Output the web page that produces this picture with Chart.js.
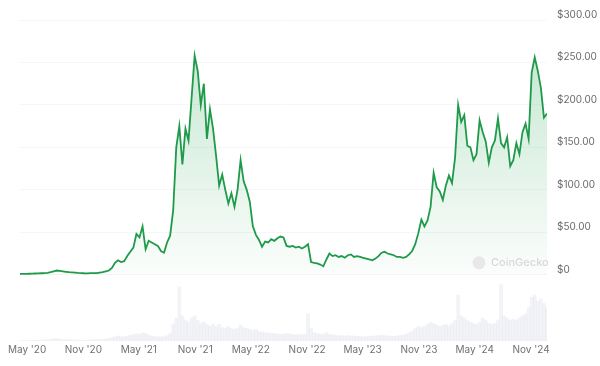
<!DOCTYPE html>
<html>
<head>
<meta charset="utf-8">
<script src="https://cdn.jsdelivr.net/npm/chart.js@4.4.1/dist/chart.umd.min.js"></script>
<style>
  html, body { margin: 0; padding: 0; background: #fff; }
</style>
</head>
<body>
<canvas id="chart" width="600" height="366"></canvas>
<script>
// price history, one reading every 10 days from the start date
const startDate = '2020-04-08';
const stepDays = 10;

const prices = [
  1, 1, 1, 1.2, 1.3, 1.5, 1.6, 1.8, 2, 2.3,
  3, 4, 5, 4.5, 4, 3.5, 3, 2.8, 2.5, 2.2,
  2, 1.8, 1.7, 2, 2, 2, 2.5, 3, 4, 5,
  8, 14, 17, 15, 16, 22, 27, 32, 48, 44,
  57, 30, 40, 38, 36, 34, 28, 26, 38, 46,
  76, 150, 175, 130, 172, 158, 208, 258, 240, 200,
  225, 160, 195, 172, 140, 105, 118, 100, 84, 96,
  80, 100, 135, 110, 100, 86, 57, 47, 41, 33,
  39, 38, 42, 40, 43, 45, 44, 34, 33, 34,
  32, 33, 31, 33, 36, 15, 14, 13.5, 12, 10,
  18, 25, 22, 23, 21, 22, 20, 23, 24, 21,
  22, 21, 20, 19, 18, 17, 19, 22, 26, 27,
  25, 24, 23, 21, 21, 20, 21, 24, 28, 36,
  49, 65, 57, 64, 80, 120, 103, 98, 88, 105,
  117, 108, 138, 200, 180, 188, 152, 150, 135, 142,
  182, 168, 157, 132, 150, 158, 184, 155, 150, 162,
  128, 135, 155, 142, 168, 178, 160, 238, 256, 240,
  220, 185, 190
];

// trading volume (USD bn), same dates
const volumes = [
  0.1, 0.1, 0.1, 0.1, 0.15, 0.15, 0.2, 0.2, 0.3, 0.3,
  0.4, 0.5, 0.6, 0.4, 0.3, 0.3, 0.3, 0.25, 0.2, 0.2,
  0.2, 0.2, 0.2, 0.25, 0.3, 0.3, 0.35, 0.4, 0.5, 0.6,
  0.8, 1, 1.2, 1, 1, 1.2, 1.4, 1.5, 1.8, 1.6,
  2, 1.8, 1.5, 1.2, 1.1, 1, 1, 1, 1.3, 1.8,
  4, 5.5, 13, 6, 5, 4.5, 5.5, 6, 5, 4.2,
  4.5, 4, 3.5, 4, 3.5, 4, 3.2, 3, 3.5, 3,
  2.8, 3, 3.8, 3.2, 3, 2.8, 2.5, 2.8, 2.2, 2.2,
  2, 2, 1.8, 1.8, 1.7, 1.6, 1.6, 1.8, 1.7, 1.5,
  1.5, 1.6, 1.5, 1.6, 6.5, 3, 2, 1.8, 1.6, 1.5,
  2, 1.6, 1.5, 1.4, 1.3, 1.3, 1.2, 1.3, 1.2, 1.2,
  1.1, 1.1, 1, 1, 1.1, 1.2, 1.2, 1.3, 1.4, 1.3,
  1.2, 1.2, 1.1, 1.2, 1.3, 1.4, 1.6, 2, 2.4, 3,
  3.5, 3.2, 3.5, 4, 4.5, 4.2, 3.8, 3.5, 3.8, 4,
  3.6, 4.2, 5, 11, 6, 5.5, 5, 4.5, 4.2, 4,
  4.5, 5.5, 5, 4.2, 4, 4.2, 5, 13.5, 6, 5.5,
  5, 5.2, 5, 5.5, 6, 6.5, 8, 10.5, 11, 9.5,
  10, 9, 8
];

const tickDates = ['2020-05-01', '2020-11-01', '2021-05-01', '2021-11-01', '2022-05-01',
                   '2022-11-01', '2023-05-01', '2023-11-01', '2024-05-01', '2024-11-01'];
const tickLabels = ["May '20", "Nov '20", "May '21", "Nov '21", "May '22",
                    "Nov '22", "May '23", "Nov '23", "May '24", "Nov '24"];
const priceTicks = [0, 50, 100, 150, 200, 250, 300];

const DAY = 86400000;
const t0 = Date.parse(startDate);
const tickDays = tickDates.map(d => (Date.parse(d) - t0) / DAY);
const lastDay = (prices.length - 1) * stepDays;

const pricePoints = prices.map((p, i) => ({ x: i * stepDays, y: p }));
const volumePoints = volumes.map((v, i) => ({ x: i * stepDays, y: v }));

const green = '#1e9a4a';

const watermark = {
    id: 'watermark',
    afterDatasetsDraw(chart) {
        const { ctx, chartArea, scales } = chart;
        const y = scales.y.getPixelForValue(14);
        ctx.save();
        ctx.fillStyle = '#e8e8e8';
        ctx.beginPath();
        ctx.arc(chartArea.right - 68, y, 6.5, 0, Math.PI * 2);
        ctx.fill();
        ctx.fillStyle = '#d8d8d8';
        ctx.font = '500 11px Inter, sans-serif';
        ctx.textBaseline = 'middle';
        ctx.fillText('CoinGecko', chartArea.right - 56, y);
        ctx.restore();
    }
};

new Chart(document.getElementById('chart'), {
    type: 'line',
    data: {
        datasets: [{
                label: 'Price',
                data: pricePoints,
                yAxisID: 'y',
                borderColor: green,
                borderWidth: 1.8,
                pointRadius: 0,
                tension: 0,
                fill: 'origin',
                backgroundColor: function(context) {
                    const { chart } = context;
                    const { ctx, chartArea, scales } = chart;
                    if (!chartArea) return 'rgba(30,160,75,0.1)';
                    const g = ctx.createLinearGradient(0, scales.y.getPixelForValue(260), 0, scales.y.getPixelForValue(0));
                    g.addColorStop(0, 'rgba(30,160,75,0.24)');
                    g.addColorStop(1, 'rgba(30,160,75,0.02)');
                    return g;
                }
            },
            {
                type: 'bar',
                label: 'Volume',
                data: volumePoints,
                yAxisID: 'y1',
                backgroundColor: 'rgba(222,226,234,0.4)',
                barPercentage: 1,
                categoryPercentage: 1,
                grouped: false
            }
        ]
    },
    options: {
        responsive: false,
        animation: false,
        devicePixelRatio: 1,
        layout: {
            padding: { left: 20, top: 20, right: 0, bottom: 0 }
        },
        scales: {
            x: {
                type: 'linear',
                offset: false,
                min: 0,
                max: lastDay,
                grid: { display: false, drawTicks: false },
                border: { display: false },
                afterBuildTicks: function(axis) {
                    axis.ticks = tickDays.map(v => ({ value: v }));
                },
                afterFit: function(axis) {
                    axis.height = 25;
                    axis.paddingLeft = 0;
                    axis.paddingRight = 0;
                },
                ticks: {
                    autoSkip: false,
                    maxRotation: 0,
                    padding: 3,
                    color: '#707070',
                    font: { family: 'Inter, sans-serif', size: 10 },
                    callback: function(value) {
                        const k = tickDays.indexOf(value);
                        return k >= 0 ? tickLabels[k] : '';
                    }
                }
            },
            y: {
                position: 'right',
                min: -78,
                max: 300,
                grid: { color: '#f6f6f6', drawTicks: false },
                border: { display: false },
                afterBuildTicks: function(axis) {
                    axis.ticks = priceTicks.map(v => ({ value: v }));
                },
                afterFit: function(axis) {
                    axis.width = 53;
                    axis.paddingTop = 0;
                    axis.paddingBottom = 0;
                },
                ticks: {
                    padding: 10,
                    labelOffset: -5,
                    color: '#6b6b6b',
                    font: { family: 'Inter, sans-serif', size: 10 },
                    callback: function(value) {
                        return value === 0 ? '$0' : '$' + value.toFixed(2);
                    }
                }
            },
            y1: {
                display: false,
                min: 0,
                max: 77
            }
        },
        plugins: {
            legend: { display: false },
            tooltip: { enabled: false }
        }
    },
    plugins: [watermark]
});
</script>
</body>
</html>
